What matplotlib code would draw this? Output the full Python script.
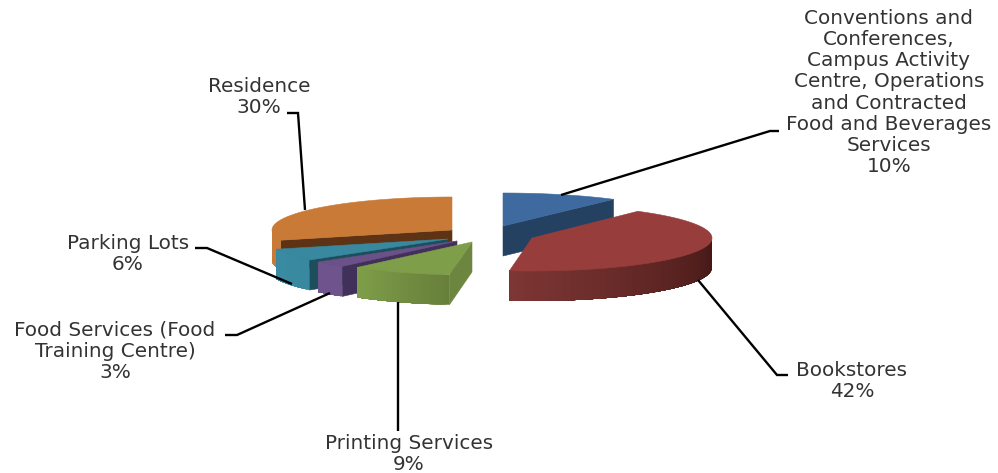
import numpy as np
import matplotlib
matplotlib.use("Agg")
import matplotlib.pyplot as plt
from matplotlib.colors import to_rgb
from matplotlib.patches import Polygon

# Share of revenue per unit, clockwise from twelve o'clock
categories = [
    "Conventions and\nConferences,\nCampus Activity\nCentre, Operations\nand Contracted\nFood and Beverages\nServices",
    "Bookstores",
    "Printing Services",
    "Food Services (Food\nTraining Centre)",
    "Parking Lots",
    "Residence",
]
percent = [10, 42, 9, 3, 6, 30]

# Exploded-slice geometry in pixels
apex = [(503, 226), (532, 238), (472, 242), (457, 241), (448, 239), (452, 230)]
radius_x = [188, 180, 180, 180, 180, 180]
radius_y = 33
depth = 30

top_colors = ["#3E6A9F", "#973E3C", "#7F9E49", "#6B5188", "#38889F", "#C97A37"]
cut_colors = ["#254162", "#5A2422", "#6C863F", "#40305A", "#1D4E5C", "#5E3315"]
wall_left = ["#254162", "#7D3634", "#7F9E49", "#6E538C", "#3A8CA3", "#C97A37"]
wall_right = ["#254162", "#421715", "#677F3B", "#6E538C", "#38889F", "#C97A37"]

# Leader lines and label anchors (x centre, y centre of the text block)
leaders = [
    [(561, 195), (770, 131), (779, 131)],
    [(698, 280), (777, 375), (788, 375)],
    [(398, 302), (398, 431)],
    [(330, 293), (237, 335), (225, 335)],
    [(292, 284), (207, 248), (195, 248)],
    [(305, 210), (298, 113), (287, 113)],
]
label_pos = [(889, 92.5), (852, 381), (409, 454), (115, 351.5), (128, 254), (259, 97)]

FONT_PX = 20.0
LINE_PX = 22.0

fig = plt.figure(figsize=(9.98, 4.73), dpi=100)
ax = fig.add_axes([0, 0, 1, 1])
ax.set_xlim(0, 998)
ax.set_ylim(473, 0)
ax.axis("off")


def rim(a, rx, deg):
    """Point on the tilted rim of a slice at a clockwise angle from the top."""
    t = np.radians(deg)
    return np.column_stack([a[0] + rx * np.sin(t), a[1] - radius_y * np.cos(t)])


def fill(points, color, z):
    ax.add_patch(Polygon(points, closed=True, facecolor=color, edgecolor=color,
                         linewidth=0.4, zorder=z))


edges = np.concatenate([[0], np.cumsum(percent)]) * 3.6

# Back-left slices first, so the nearer ones overlap them
order = [5, 4, 3, 2, 0, 1]
for z, i in enumerate(order):
    t0, t1 = edges[i], edges[i + 1]
    a, rx = apex[i], radius_x[i]
    base = z * 10 + 1

    # Cut faces that turn towards the viewer
    for ang, ok in ((t0, 180 < t0 < 270), (t1, 0 < t1 < 90)):
        if ok:
            p = rim(a, rx, [ang])[0]
            fill([a, p, (p[0], p[1] + depth), (a[0], a[1] + depth)], cut_colors[i], base)

    # Outer wall: strips overlap the next one so no seams show through the shading
    lo, hi = max(t0, 90), min(t1, 270)
    if hi > lo:
        n = 40
        steps = np.linspace(lo, hi, n + 1)
        c_left, c_right = np.array(to_rgb(wall_left[i])), np.array(to_rgb(wall_right[i]))
        for k in range(n):
            seg = rim(a, rx, np.linspace(steps[k], hi, 40))
            f = (k + 0.5) / n
            shade = c_right + (c_left - c_right) * f
            ax.add_patch(Polygon(np.vstack([seg, (seg + [0, depth])[::-1]]), closed=True,
                                 facecolor=shade, edgecolor="none", zorder=base + 1))

    # Top surface
    arc = rim(a, rx, np.linspace(t0, t1, 120))
    fill(np.vstack([[a], arc]), top_colors[i], base + 2)

# Leader lines
for path in leaders:
    xs, ys = zip(*path)
    ax.plot(xs, ys, color="black", lw=1.7, solid_joinstyle="miter",
            solid_capstyle="butt", zorder=100)

# Category labels with their percentages
for name, pct, (x, y) in zip(categories, percent, label_pos):
    ax.text(x, y, f"{name}\n{pct}%", ha="center", va="center", ma="center",
            fontsize=FONT_PX * 0.72, family="DejaVu Sans", color="#333333",
            linespacing=LINE_PX / (FONT_PX * 0.97), zorder=110)

fig.savefig("out.png", dpi=100, facecolor="white")
